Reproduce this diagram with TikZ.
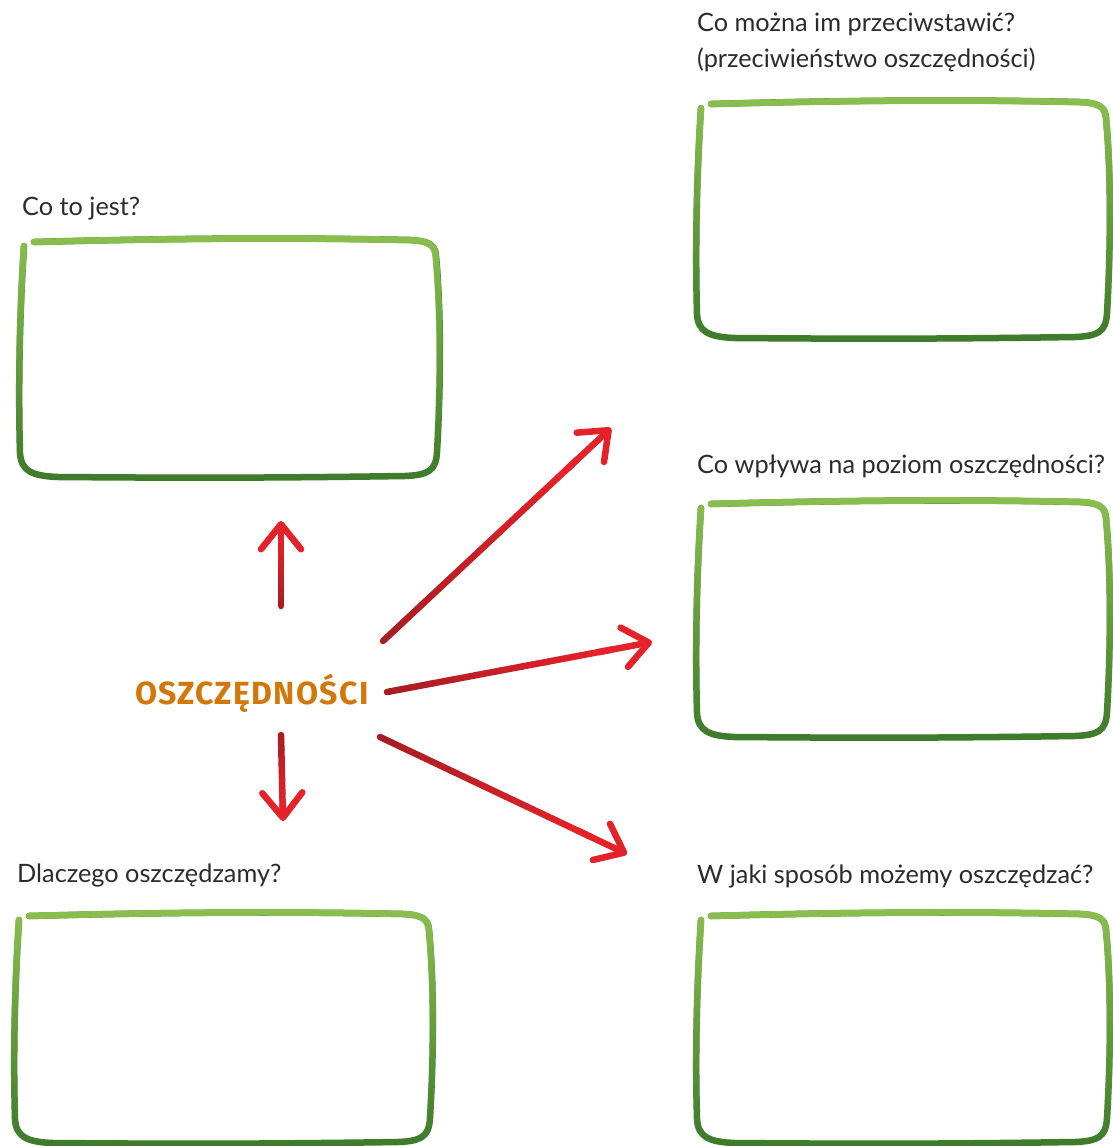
\documentclass[tikz,border=0pt]{standalone}
\usepackage{fontspec}
\setmainfont{Lato}
\newfontfamily\headfont{Fira Sans}[LetterSpace=4]
\usetikzlibrary{arrows.meta,calc,fadings}
\definecolor{gtop}{HTML}{8BC04F}
\definecolor{gbot}{HTML}{3D7A2B}
\definecolor{rdark}{HTML}{A91D22}
\definecolor{rbright}{HTML}{E5222A}
\definecolor{txt}{HTML}{2B2B2B}
\definecolor{orng}{HTML}{D27809}
\tikzset{
  boxline/.style={line width=6.5pt, line cap=round, line join=round},
  shaft/.style={line width=6.5pt, line cap=round},
  lbl/.style={font=\fontsize{25.3}{30}\selectfont, text=txt, inner sep=0pt, anchor=base west},
  headlbl/.style={font=\headfont\bfseries\fontsize{32}{32}\selectfont, text=orng, inner sep=0pt, anchor=base west},
  pics/handbox/.style 2 args={code={
    \def\hbpath{(6,8) .. controls (2,70) and (0,{#2*0.6}) .. (2,{#2-24})
      .. controls (3,{#2-6}) and (14,{#2-1}) .. (40,{#2})
      .. controls ({#1*0.4},{#2+1}) and ({#1*0.6},{#2+1}) .. ({#1-35},{#2-1})
      .. controls ({#1-12},{#2-2}) and ({#1-4},{#2-6}) .. ({#1-3},{#2-25})
      .. controls ({#1+1},{#2*0.6}) and ({#1+1},{#2*0.3}) .. ({#1-4},18)
      .. controls ({#1-5},6) and ({#1-12},3) .. ({#1-30},2)
      .. controls ({#1*0.6},-1) and ({#1*0.3},1) .. (16,4)}
    \draw[boxline, draw=gbot] \hbpath;
    \draw[boxline, draw=gtop, path fading=south] \hbpath;
  }}
}
\newcommand\redarrow[2]{%
  \foreach \i in {0,...,9}{%
    \pgfmathtruncatemacro\p{\i*100/9}%
    \pgfmathsetmacro\ta{\i*0.085}%
    \pgfmathsetmacro\tb{(\i+1)*0.085}%
    \draw[shaft, draw=rbright!\p!rdark] ($(#1)!\ta!(#2)$) -- ($(#1)!\tb!(#2)$);
  }%
  \draw[shaft, draw=rbright, -{Straight Barb[round, length=25pt, width=40pt]}] ($(#1)!0.8!(#2)$) -- (#2);
}
\begin{document}
\begin{tikzpicture}[x=1pt,y=-1pt]
\useasboundingbox[fill=white] (0,0) rectangle (1112,1146);

% boxes
\pic at (18,238) {handbox={422}{239}};
\pic at (695,100) {handbox={415}{238}};
\pic at (695,500) {handbox={415}{237}};
\pic at (695,912) {handbox={415}{231}};
\pic at (13,912) {handbox={420}{231}};

% labels
\node[lbl] (q1) at (22,215) {Co to jest?};
\node[lbl] (q2a) at (697,31) {Co można im przeciwstawić?};
\node[lbl] (q2b) at (697,67) {(przeciwieństwo oszczędności)};
\node[lbl] (q3) at (697,473) {Co wpływa na poziom oszczędności?};
\node[lbl] (q4) at (17,882) {Dlaczego oszczędzamy?};
\node[lbl] (q5) at (697,883) {W jaki sposób możemy oszczędzać?};

\node[headlbl] (main) at (135,704) {OSZCZĘDNOŚCI};

% arrow end points
\coordinate (u1) at (281,606);  \coordinate (u2) at (281,521);
\coordinate (d1) at (281,735);  \coordinate (d2) at (283,821);
\coordinate (ne1) at (383,641); \coordinate (ne2) at (611,428);
\coordinate (e1) at (387,692);  \coordinate (e2) at (652,642);
\coordinate (se1) at (380,737); \coordinate (se2) at (627,854);

\redarrow{u1}{u2}
\redarrow{d1}{d2}
\redarrow{ne1}{ne2}
\redarrow{e1}{e2}
\redarrow{se1}{se2}
\end{tikzpicture}
\end{document}
